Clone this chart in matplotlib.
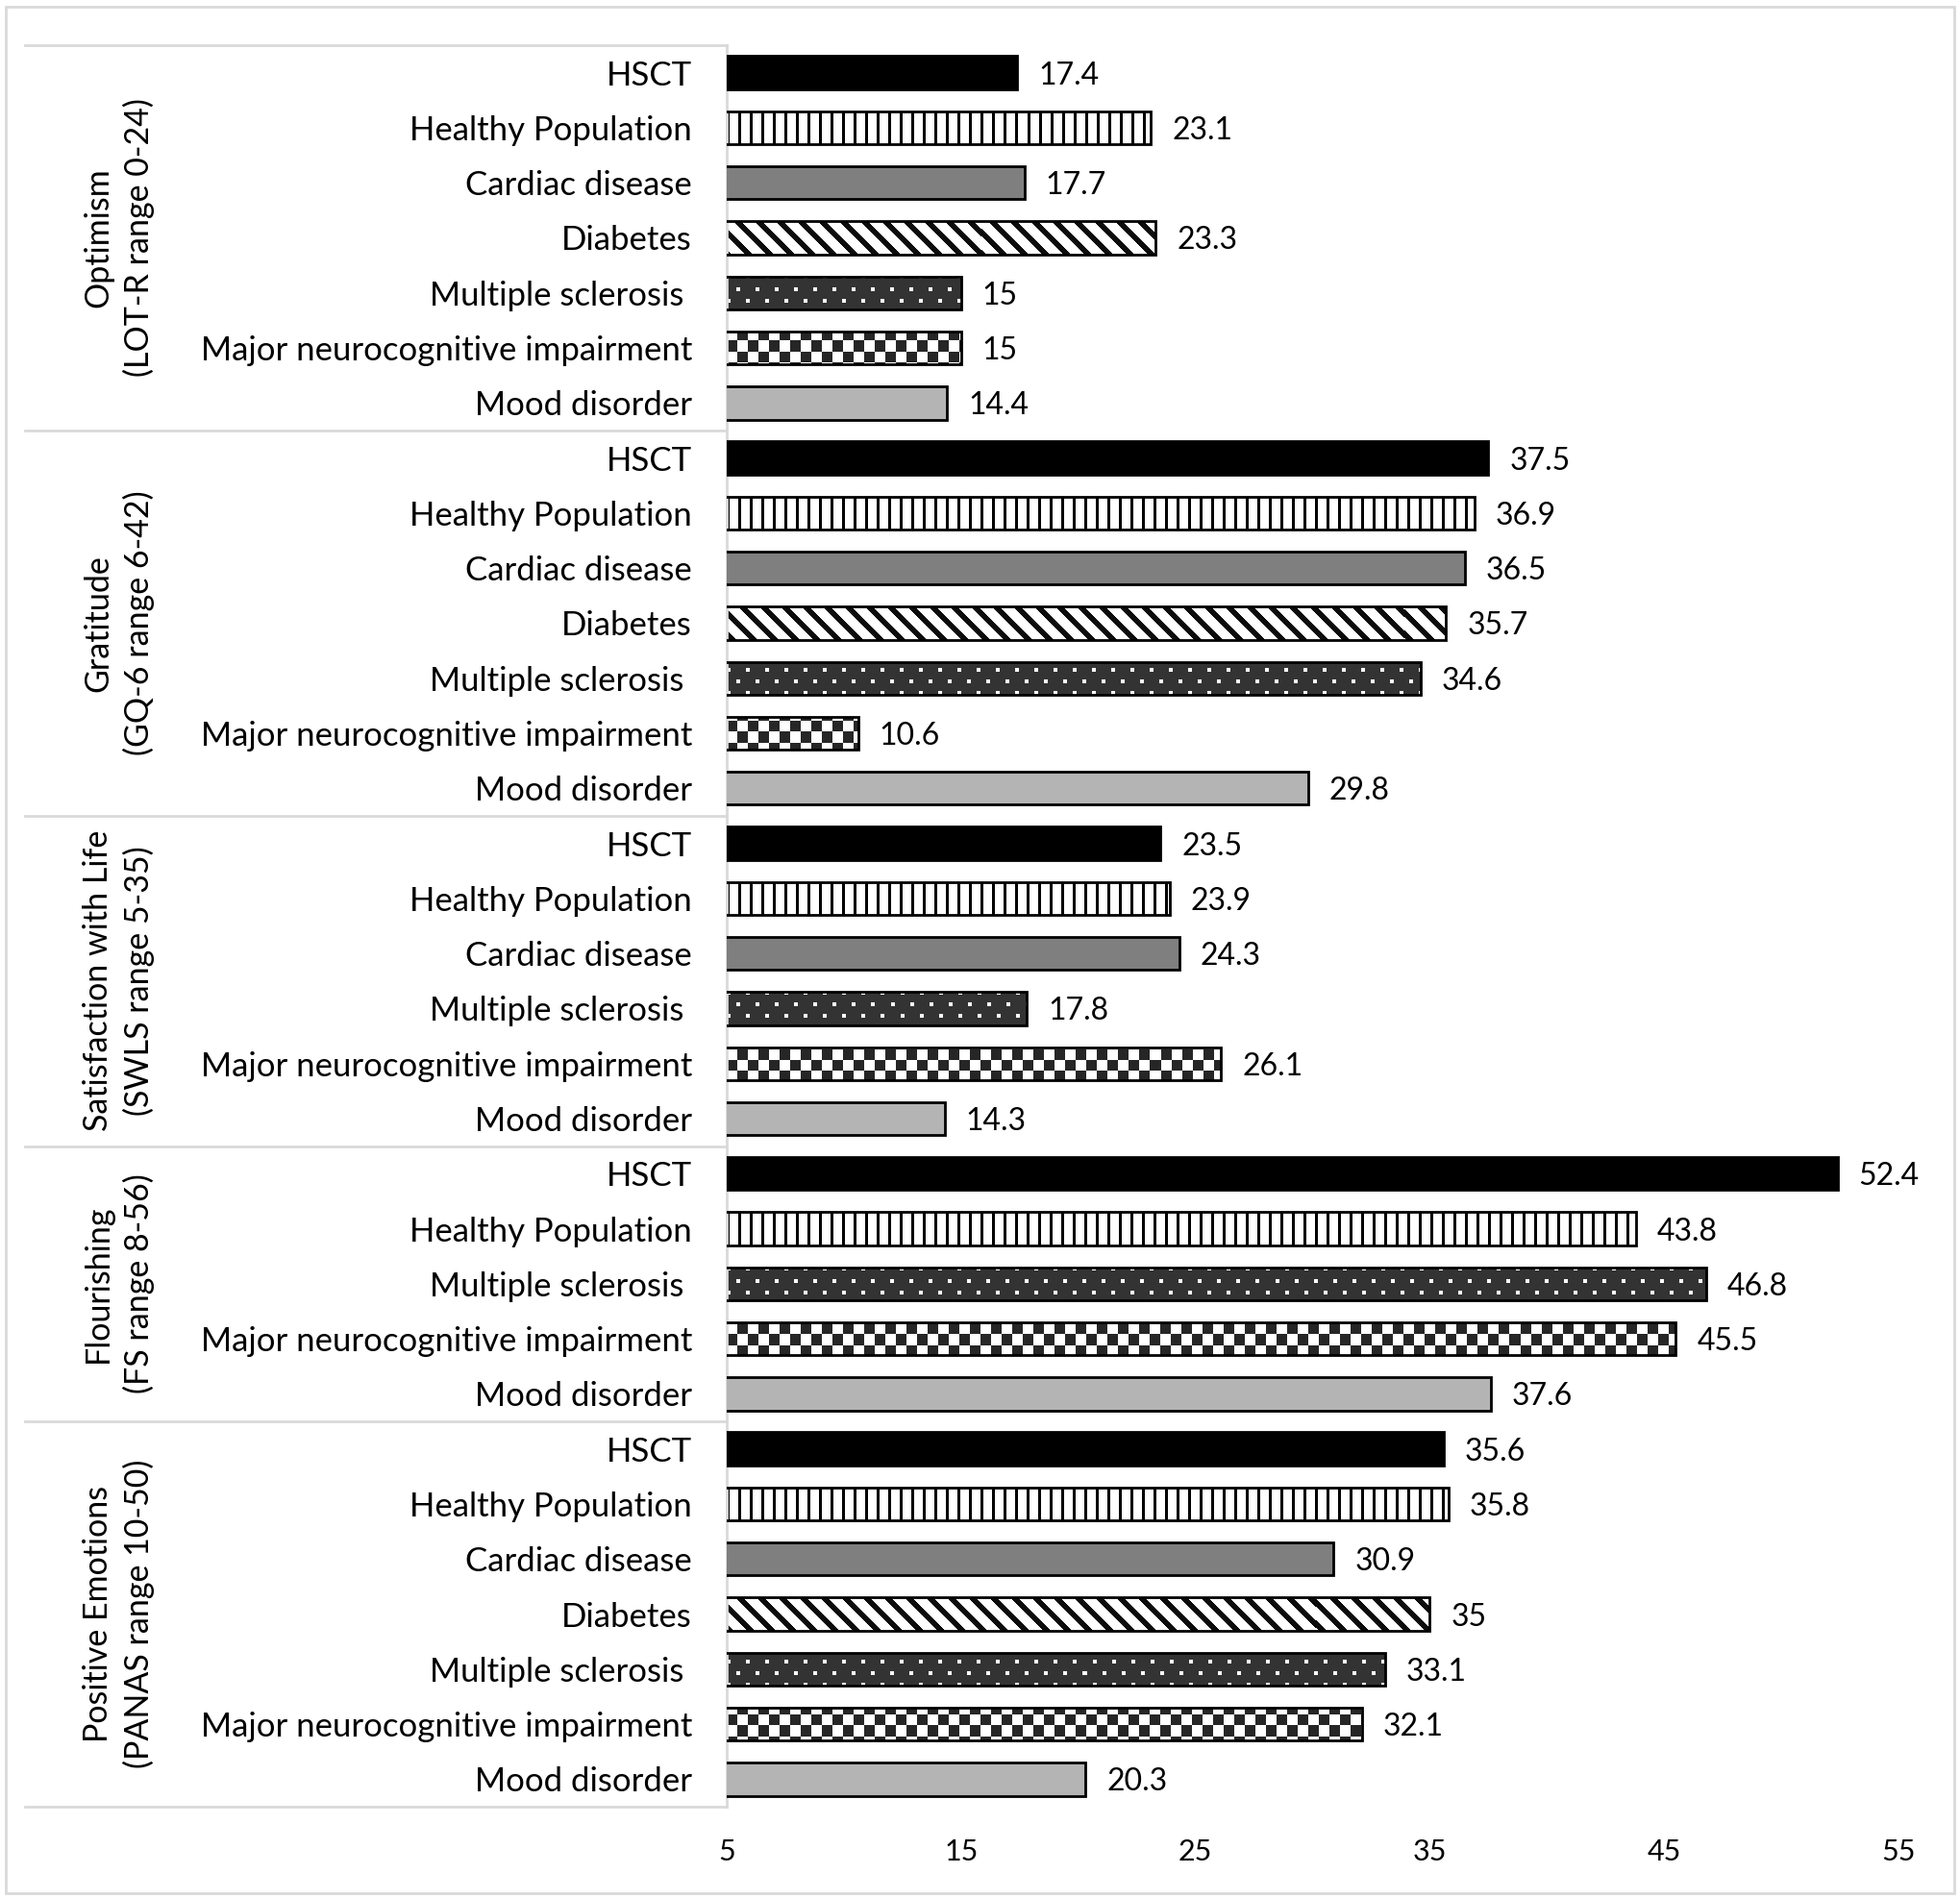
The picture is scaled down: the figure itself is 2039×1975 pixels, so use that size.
import numpy as np
import matplotlib
matplotlib.use("Agg")
import matplotlib.pyplot as plt
from matplotlib.patches import Rectangle
from matplotlib.transforms import blended_transform_factory, ScaledTranslation

plt.rcParams['font.family'] = ['Lato', 'DejaVu Sans']

# ---- data ----
groups = [
    "Optimism\n(LOT-R range 0-24)",
    "Gratitude\n(GQ-6 range 6-42)",
    "Satisfaction with Life\n(SWLS range 5-35)",
    "Flourishing\n(FS range 8-56)",
    "Positive Emotions\n(PANAS range 10-50)",
]
optimism_cats = ["HSCT", "Healthy Population", "Cardiac disease", "Diabetes",
                 "Multiple sclerosis", "Major neurocognitive impairment", "Mood disorder"]
optimism_vals = [17.4, 23.1, 17.7, 23.3, 15, 15, 14.4]
gratitude_cats = ["HSCT", "Healthy Population", "Cardiac disease", "Diabetes",
                  "Multiple sclerosis", "Major neurocognitive impairment", "Mood disorder"]
gratitude_vals = [37.5, 36.9, 36.5, 35.7, 34.6, 10.6, 29.8]
swls_cats = ["HSCT", "Healthy Population", "Cardiac disease",
             "Multiple sclerosis", "Major neurocognitive impairment", "Mood disorder"]
swls_vals = [23.5, 23.9, 24.3, 17.8, 26.1, 14.3]
flourish_cats = ["HSCT", "Healthy Population",
                 "Multiple sclerosis", "Major neurocognitive impairment", "Mood disorder"]
flourish_vals = [52.4, 43.8, 46.8, 45.5, 37.6]
panas_cats = ["HSCT", "Healthy Population", "Cardiac disease", "Diabetes",
              "Multiple sclerosis", "Major neurocognitive impairment", "Mood disorder"]
panas_vals = [35.6, 35.8, 30.9, 35, 33.1, 32.1, 20.3]
xticks = [5, 15, 25, 35, 45, 55]

group_cats = [optimism_cats, gratitude_cats, swls_cats, flourish_cats, panas_cats]
group_vals = [optimism_vals, gratitude_vals, swls_vals, flourish_vals, panas_vals]

cats = [c for g in group_cats for c in g]
vals = [v for g in group_vals for v in g]
ypos = np.arange(len(cats))
ymin, ymax = -0.5, len(cats) - 0.5

# ---- figure ----
fig = plt.figure(figsize=(20.4, 19.75), dpi=100)
ax = fig.add_axes([0.3706, 0.0481, 0.5975, 0.9281])

# pixel patterns (approx. Excel pattern fills), sized to the axes in pixels
H, W = 1833, 1219
rr, cc = np.indices((H, W))
patterns = {
    "vlines": np.where(cc % 12 < 3, 0.0, 1.0),
    "diag": np.where((cc - rr) % 22 < 8, 0.05, 1.0),
    "dots": np.where((rr % 12 < 4) & ((cc + 10 * ((rr // 12) % 2)) % 20 < 4), 1.0, 0.2),
    "checker": np.where((rr // 11 + cc // 11) % 2 == 0, 0.15, 1.0),
}
solid = {"HSCT": "black", "Cardiac disease": "#7f7f7f", "Mood disorder": "#b4b4b4"}
patterned = {"Healthy Population": "vlines", "Diabetes": "diag",
             "Multiple sclerosis": "dots", "Major neurocognitive impairment": "checker"}

label_shift = ax.transData + ScaledTranslation(22 / 100, 0, fig.dpi_scale_trans)
for y, cat, v in zip(ypos, cats, vals):
    if cat in solid:
        ax.barh(y, v, height=0.6, color=solid[cat], edgecolor="black", linewidth=2, zorder=3)
    else:
        bar = ax.barh(y, v, height=0.6, facecolor="none", edgecolor="black",
                      linewidth=2, zorder=3)[0]
        im = ax.imshow(patterns[patterned[cat]], cmap="gray", vmin=0, vmax=1,
                       interpolation="nearest", aspect="auto",
                       extent=(5, 55, ymax, ymin), zorder=2)
        im.set_clip_path(bar)
    ax.text(v, y, f"{v:g}", va="center_baseline", ha="left", fontsize=23,
            transform=label_shift)

ax.set_xlim(5, 55)
ax.set_ylim(ymax, ymin)
ax.set_xticks(xticks)
ax.set_xticklabels([str(t) for t in xticks], fontsize=22)
ax.set_yticks(ypos)
ax.set_yticklabels([c + " " if c == "Multiple sclerosis" else c for c in cats], fontsize=25)
ax.tick_params(axis="x", length=0, pad=24)
ax.tick_params(axis="y", length=0, pad=26)
for s in ["top", "right", "bottom"]:
    ax.spines[s].set_visible(False)
ax.spines["left"].set_color("#d9d9d9")
ax.spines["left"].set_linewidth(2)

# group separators and labels
tr = blended_transform_factory(ax.transAxes, ax.transData)
start = 0
bounds = [ymin]
for name, g in zip(groups, group_cats):
    end = start + len(g)
    bounds.append(end - 0.5)
    ax.text(-0.519, (start + end - 1) / 2, name, transform=tr, rotation=90,
            ha="center", va="center", multialignment="center", fontsize=24.5,
            linespacing=1.35)
    start = end
for b in bounds:
    ax.plot([-0.599, 0], [b, b], color="#d9d9d9", linewidth=2, transform=tr, clip_on=False)

# outer border of the chart area
fig.patches.append(Rectangle((6.5 / 2040, 5 / 1975), 2027 / 2040, 1963 / 1975,
                             transform=fig.transFigure, fill=False,
                             edgecolor="#d9d9d9", linewidth=2))

fig.savefig("out.png", dpi=100)
